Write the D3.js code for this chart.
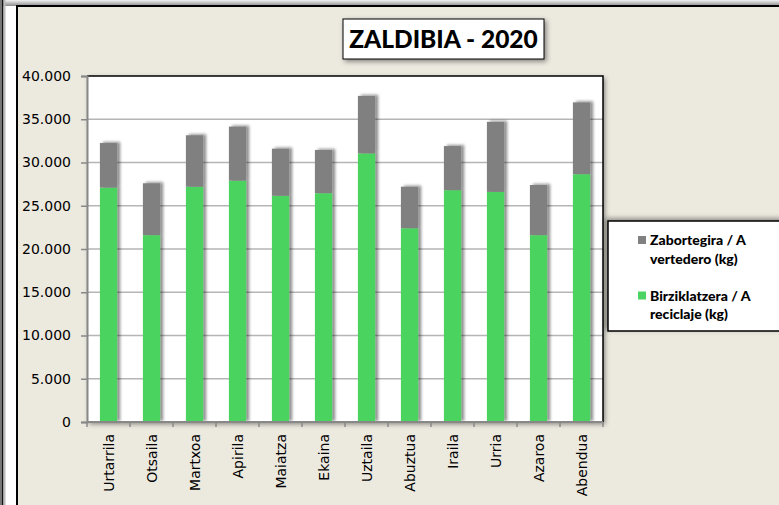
<!DOCTYPE html>
<meta charset="utf-8">
<style>
  body { margin: 0; background-color: #fff; }
  svg { display: block; }
</style>
<body>
<svg width="779" height="505"></svg>
<script src="https://d3js.org/d3.v7.min.js"></script>
<script>

var months = ["Urtarrila", "Otsaila", "Martxoa", "Apirila", "Maiatza", "Ekaina",
              "Uztaila", "Abuztua", "Iraila", "Urria", "Azaroa", "Abendua"];
// kg per month
var reciclaje = [27100, 21600, 27200, 27900, 26150, 26450, 31050, 22400, 26800, 26600, 21600, 28650];
var vertedero = [5150, 6000, 5950, 6250, 5450, 5000, 6650, 4800, 5100, 8100, 5800, 8300];
var yTicks = [0, 5000, 10000, 15000, 20000, 25000, 30000, 35000, 40000];
var seriesNames = ["Zabortegira / A vertedero (kg)", "Birziklatzera / A reciclaje (kg)"];
var seriesLines = [["Zabortegira / A", "vertedero (kg)"], ["Birziklatzera / A", "reciclaje (kg)"]];
var colors = ["#808080", "#4cd361"];
var title = "ZALDIBIA - 2020";

var axisFont = "DejaVu Sans";
var boldFont = "Lato";

var svg = d3.select("svg");
var defs = svg.append("defs");

defs.append("filter").attr("id", "barShadow")
    .attr("x", "-50%").attr("y", "-20%").attr("width", "200%").attr("height", "140%")
  .append("feDropShadow")
    .attr("dx", 3).attr("dy", -1).attr("stdDeviation", 1.8)
    .attr("flood-color", "#000").attr("flood-opacity", 0.45);

defs.append("filter").attr("id", "boxShadow")
    .attr("x", "-20%").attr("y", "-20%").attr("width", "140%").attr("height", "140%")
  .append("feDropShadow")
    .attr("dx", 2).attr("dy", 2).attr("stdDeviation", 2.5)
    .attr("flood-color", "#000").attr("flood-opacity", 0.45);

defs.append("filter").attr("id", "boxShadowUL")
    .attr("x", "-20%").attr("y", "-20%").attr("width", "140%").attr("height", "140%")
  .append("feDropShadow")
    .attr("dx", -2).attr("dy", -2).attr("stdDeviation", 2.5)
    .attr("flood-color", "#000").attr("flood-opacity", 0.4);

var topGrad = defs.append("linearGradient").attr("id", "topGrad")
    .attr("x1", 0).attr("y1", 0).attr("x2", 0).attr("y2", 1);
topGrad.append("stop").attr("offset", "0%").attr("stop-color", "#f2f2f2");
topGrad.append("stop").attr("offset", "100%").attr("stop-color", "#8a8a8a");

// page frame
svg.append("rect").attr("x", 0).attr("y", 0).attr("width", 779).attr("height", 6)
    .attr("fill", "url(#topGrad)");
svg.append("rect").attr("x", 0).attr("y", 0).attr("width", 2).attr("height", 505).attr("fill", "#777");
svg.append("rect").attr("x", 2).attr("y", 0).attr("width", 1.5).attr("height", 505).attr("fill", "#111");
svg.append("rect").attr("x", 3.5).attr("y", 0).attr("width", 2).attr("height", 505).attr("fill", "#bbb");
svg.append("rect")
    .attr("x", 17).attr("y", 6).attr("width", 800).attr("height", 520)
    .attr("fill", "#ece9df").attr("stroke", "#000").attr("stroke-width", 2);

var margin = { left: 87, right: 603, top: 76, bottom: 422 };

var x = d3.scaleBand().domain(months)
    .range([margin.left, margin.right]).paddingInner(0.6).paddingOuter(0.3);
var xb = d3.scaleBand().domain(months).range([margin.left, margin.right]);
var y = d3.scaleLinear().domain([0, 40000]).range([margin.bottom, margin.top]);

// plot area
svg.append("rect")
    .attr("x", margin.left).attr("y", margin.top)
    .attr("width", margin.right - margin.left).attr("height", margin.bottom - margin.top)
    .attr("fill", "#fff").attr("filter", "url(#boxShadow)");

svg.append("g").selectAll("line")
  .data(yTicks.slice(1, -1))
  .join("line")
    .attr("x1", margin.left).attr("x2", margin.right)
    .attr("y1", d => y(d)).attr("y2", d => y(d))
    .attr("stroke", "#b5b5b5").attr("stroke-width", 1.3);

// stacked bars
var rows = months.map((m, i) => ({ month: m, reciclaje: reciclaje[i], vertedero: vertedero[i] }));
var stack = d3.stack().keys(["reciclaje", "vertedero"])(rows);
var fills = { reciclaje: colors[1], vertedero: colors[0] };

var barG = svg.append("g").attr("filter", "url(#barShadow)");
stack.forEach(function(layer) {
  barG.selectAll(null)
    .data(layer)
    .join("rect")
      .attr("x", d => x(d.data.month))
      .attr("width", x.bandwidth())
      .attr("y", d => y(d[1]))
      .attr("height", d => y(d[0]) - y(d[1]))
      .attr("fill", fills[layer.key]);
});

// plot border, top and right in black
svg.append("path")
    .attr("d", "M" + margin.left + "," + margin.top + "H" + margin.right + "V" + margin.bottom)
    .attr("fill", "none").attr("stroke", "#000").attr("stroke-width", 1.5);

// axes
var yAxis = svg.append("g")
    .attr("transform", "translate(" + margin.left + ",0)")
    .call(d3.axisLeft(y).tickValues(yTicks)
      .tickFormat(d => d3.format(",")(d).replace(/,/g, "."))
      .tickSize(6).tickPadding(10));
yAxis.attr("font-family", null).attr("font-size", null);
yAxis.selectAll("text")
    .attr("font-family", axisFont).attr("font-size", 14).attr("fill", "#000");
yAxis.select(".domain").attr("stroke", "#888").attr("stroke-width", 2);
yAxis.selectAll(".tick line").attr("stroke", "#888").attr("stroke-width", 1.5);

var xAxis = svg.append("g")
    .attr("transform", "translate(0," + margin.bottom + ")");
xAxis.append("line")
    .attr("x1", margin.left).attr("x2", margin.right)
    .attr("stroke", "#888").attr("stroke-width", 2);
xAxis.selectAll("line.tk")
  .data(months)
  .join("line").attr("class", "tk")
    .attr("x1", d => xb(d)).attr("x2", d => xb(d))
    .attr("y1", 0).attr("y2", 5)
    .attr("stroke", "#888").attr("stroke-width", 1.5);
xAxis.append("line")
    .attr("x1", margin.right).attr("x2", margin.right).attr("y1", 0).attr("y2", 5)
    .attr("stroke", "#888").attr("stroke-width", 1.5);
xAxis.selectAll("text")
  .data(months)
  .join("text")
    .attr("transform", d => "translate(" + (xb(d) + xb.bandwidth() / 2 + 5) + ",12) rotate(-90)")
    .attr("text-anchor", "end")
    .attr("font-family", axisFont).attr("font-size", 14).attr("fill", "#000")
    .text(d => d);

// title
var tg = svg.append("g");
tg.append("rect").attr("x", 343).attr("y", 19).attr("width", 201).attr("height", 40)
    .attr("fill", "#fff").attr("stroke", "#000").attr("stroke-width", 1)
    .attr("filter", "url(#boxShadow)");
tg.append("text")
    .attr("x", 443.5).attr("y", 47.5).attr("text-anchor", "middle")
    .attr("font-family", boldFont).attr("font-weight", 900).attr("font-size", 24.5)
    .text(title);

// legend
var lg = svg.append("g");
lg.append("rect").attr("x", 608).attr("y", 221).attr("width", 200).attr("height", 110)
    .attr("fill", "#fff").attr("stroke", "#000").attr("stroke-width", 1.5)
    .attr("filter", "url(#boxShadowUL)");
seriesNames.forEach(function(name, i) {
  var top = 236 + i * 55.5;
  lg.append("rect").attr("x", 638).attr("y", top).attr("width", 8).attr("height", 8)
      .attr("fill", colors[i]);
  seriesLines[i].forEach(function(line, j) {
    lg.append("text")
        .attr("x", 650).attr("y", top + 9 + j * 18.5)
        .attr("font-family", boldFont).attr("font-weight", 900).attr("font-size", 14)
        .text(line);
  });
});

</script>
